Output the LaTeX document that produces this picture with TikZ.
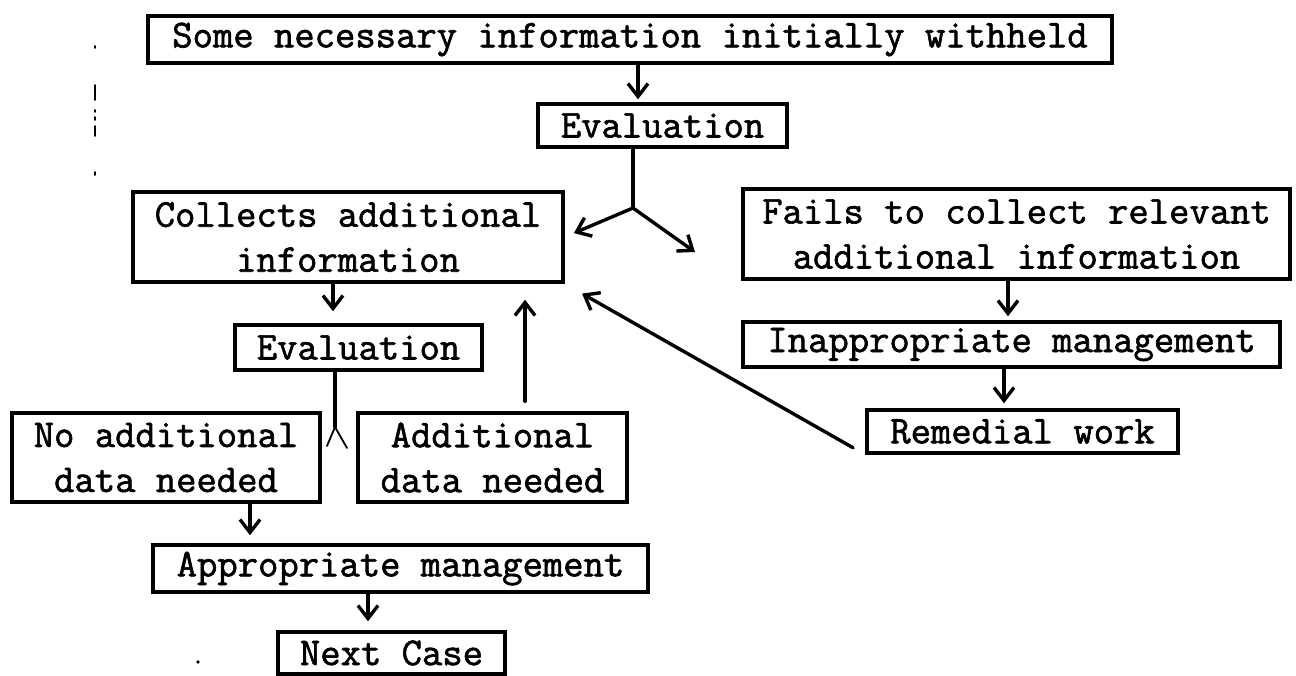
\documentclass[tikz,border=0pt]{standalone}
\usepackage{fontspec}
\setmonofont{Latin Modern Mono}[FakeBold=1.6]
\usetikzlibrary{arrows.meta}
\begin{document}
\begin{tikzpicture}[x=1pt,y=-1pt,
  box/.style={draw=black, line width=3.4pt, rectangle, inner sep=0pt, align=center,
    font=\fontsize{39.5}{45}\selectfont\ttfamily},
  conn/.style={draw=black, line width=3.4pt, line cap=round},
  arr/.style={conn, -{Straight Barb[length=13pt,width=20pt,line width=3.4pt]}},
  scanmark/.style={draw=black, line width=1.8pt, line cap=round}]
\useasboundingbox (0,0) rectangle (1296,675);
\fill[white] (0,0) rectangle (1296,675);

% nodes
\node[box, minimum width=964pt, minimum height=47pt] (top) at (630,39.5) {Some necessary information initially withheld};
\node[box, minimum width=249pt, minimum height=43pt] (evalA) at (662.5,125.5) {Evaluation};
\node[box, minimum width=430pt, minimum height=90pt] (collect) at (348,237) {Collects additional\\information};
\node[box, minimum width=547pt, minimum height=90pt] (fail) at (1016.5,234) {Fails to collect relevant\\additional information};
\node[box, minimum width=537pt, minimum height=45pt] (inapp) at (1011.5,344.5) {Inappropriate management};
\node[box, minimum width=311pt, minimum height=43pt] (remed) at (1022.5,431.5) {Remedial work};
\node[box, minimum width=247pt, minimum height=45pt] (evalB) at (358.5,347.5) {Evaluation};
\node[box, minimum width=308pt, minimum height=89pt] (noadd) at (166,457.5) {No additional\\data needed};
\node[box, minimum width=269pt, minimum height=89pt] (add) at (492.5,457.5) {Additional\\data needed};
\node[box, minimum width=495pt, minimum height=47pt] (approp) at (400.5,568.5) {Appropriate management};
\node[box, minimum width=227pt, minimum height=42pt] (next) at (391.5,653) {Next Case};

% helper coordinates
\coordinate (fork) at (633,208);
\coordinate (failin) at (695,252);
\coordinate (forkB) at (335,427);
\coordinate (forkBl) at (327,446);
\coordinate (forkBr) at (347,448);

% connectors
\draw[arr, shorten >=3pt] ([xshift=8pt]top.south) -- ([xshift=-24.5pt]evalA.north);
\draw[conn] (evalA.south -| fork) -- (fork);
\draw[arr, shorten >=10pt] (fork) -- (collect.east);
\draw[arr] (fork) -- (failin);
\draw[arr, shorten >=4pt] ([xshift=-8.5pt]fail.south) -- ([xshift=-3.5pt]inapp.north);
\draw[arr, shorten >=5pt] ([xshift=-7.5pt]inapp.south) -- ([xshift=-18.5pt]remed.north);
\draw[arr, shorten <=14pt, shorten >=20pt] (remed.south west) -- (collect.south east);
\draw[arr, shorten >=12pt] ([xshift=-15pt]collect.south) -- ([xshift=-25.5pt]evalB.north);
\draw[conn] (evalB.south -| forkB) -- (forkB);
\draw[scanmark] (forkB) -- (forkBl);
\draw[scanmark] (forkB) -- (forkBr);
\draw[arr, shorten <=10pt, shorten >=16pt] ([xshift=32.5pt]add.north) -- ([xshift=177pt]collect.south);
\draw[arr, shorten >=8pt] ([xshift=84pt]noadd.south) -- ([xshift=-150.5pt]approp.north);
\draw[arr, shorten >=9pt] ([xshift=-32.5pt]approp.south) -- ([xshift=-23.5pt]next.north);

% stray scan marks
\draw[scanmark] (95,46) -- (95,48);
\draw[scanmark] (95,85) -- (95,100);
\draw[scanmark] (95,110) -- (95,112);
\draw[scanmark] (95,117) -- (95,120);
\draw[scanmark] (95,126) -- (95,136);
\draw[scanmark] (95,172) -- (95,175);
\fill[black] (198,662) circle (1.8pt);
\end{tikzpicture}
\end{document}
